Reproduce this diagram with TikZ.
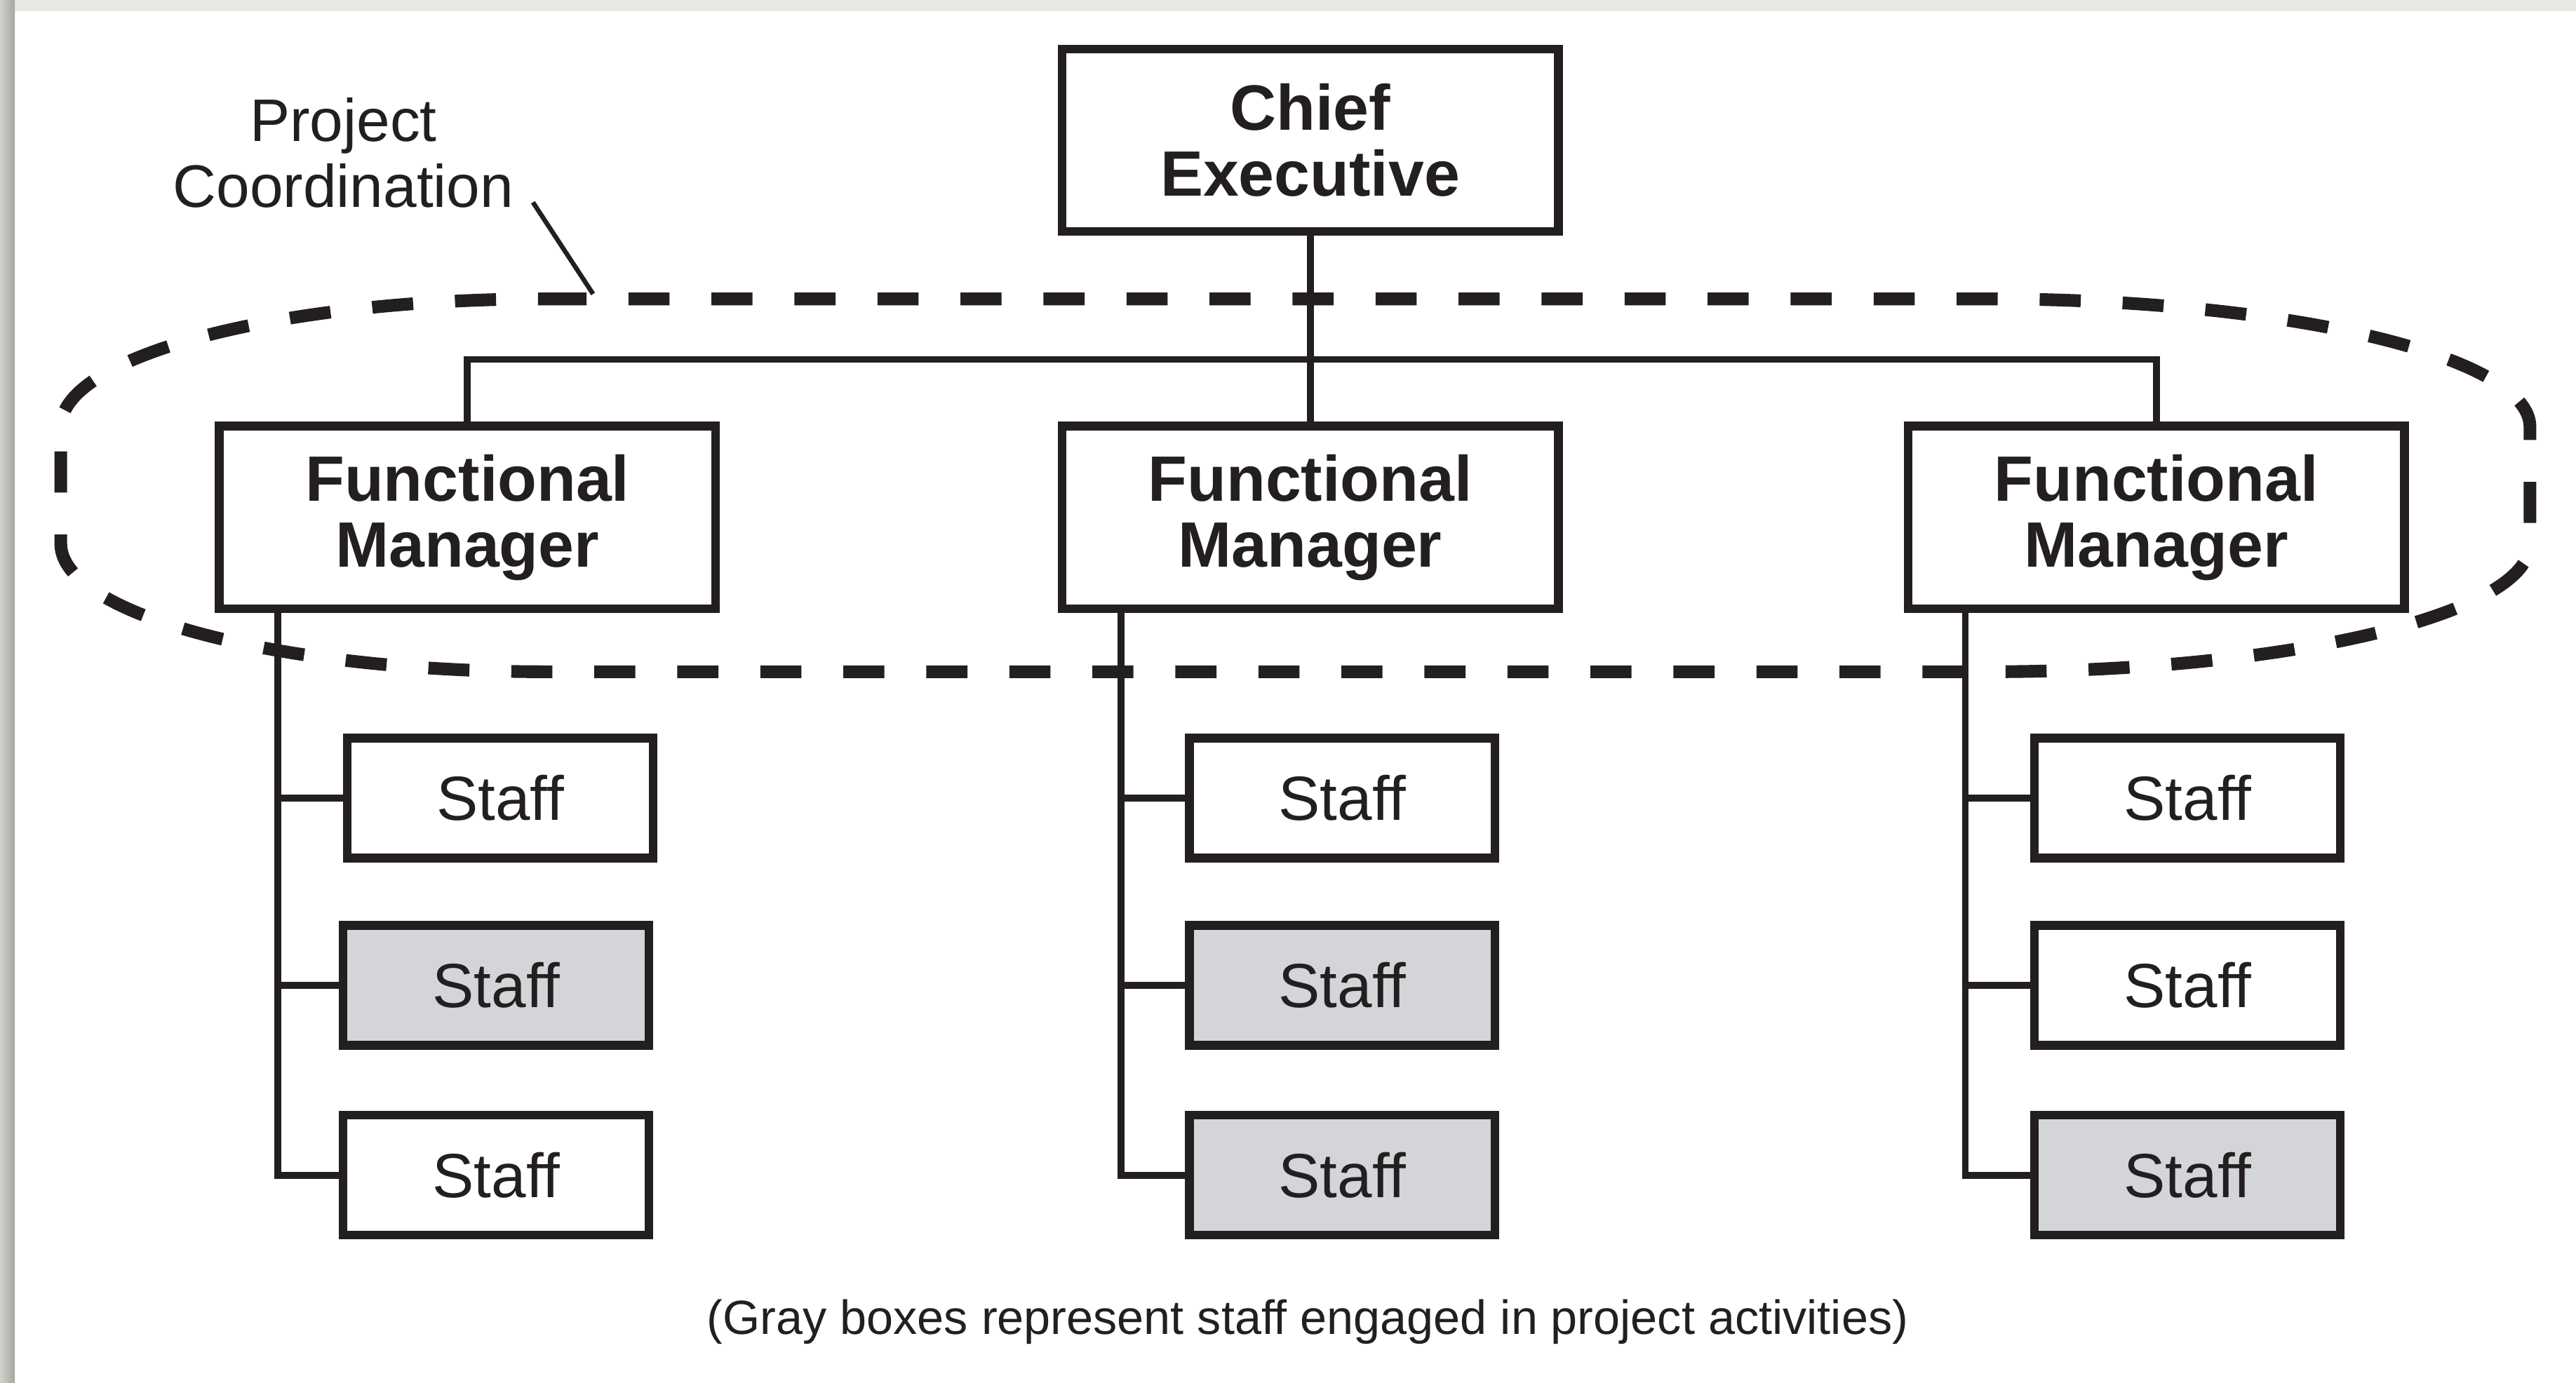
\documentclass[tikz,border=0pt]{standalone}
\usepackage{fontspec}
\setmainfont{Liberation Sans}
\definecolor{ink}{RGB}{35,31,32}
\definecolor{staffgray}{RGB}{212,213,216}
\definecolor{bandgray}{RGB}{234,232,227}
\definecolor{bandshade}{RGB}{168,166,160}
\begin{document}
\begin{tikzpicture}
  [x=0.01cm, y=-0.01cm,
  every node/.style={text=ink, inner sep=0pt},
  headbox/.style={draw=ink, line width=1.5pt, fill=white, minimum width=3.02cm,
    minimum height=1.11cm, align=center, font=\bfseries\fontsize{11.1}{11.4}\selectfont},
  staffbox/.style={draw=ink, line width=1.5pt, fill=white, minimum width=1.86cm,
    minimum height=0.73cm, font=\fontsize{10.8}{13}\selectfont},
  busybox/.style={staffbox, fill=staffgray},
  link/.style={draw=ink, line width=1.2pt},
  coord/.style={draw=ink, line width=2.2pt, dash pattern=on 0.25cm off 0.255cm},
  ]
  % frame
  \useasboundingbox (0,0) rectangle (1568,842);
  \fill[white] (0,0) rectangle (1568,842);
  \fill[bandgray] (0,0) rectangle (1568,7);
  \shade[left color=bandgray!90!black, right color=bandshade] (0,0) rectangle (9,842);

  % chief and functional managers
  \node[headbox] (ce) at (797.5,85.5) {Chief\\Executive};
  \node[headbox] (fm1) at (284.5,315) {Functional\\Manager};
  \node[headbox] (fm2) at (797.5,315) {Functional\\Manager};
  \node[headbox] (fm3) at (1312.5,315) {Functional\\Manager};

  \draw[link] (ce.south) -- (fm2.north);
  \draw[link] (fm1.north) -- ++(0,-38) -| (fm3.north);

  % staff under each manager
  \node[staffbox] (s11) at (304.5,486) {Staff};
  \node[busybox]  (s12) at (302,600) {Staff};
  \node[staffbox] (s13) at (302,715.5) {Staff};

  \node[staffbox] (s21) at (817,486) {Staff};
  \node[busybox]  (s22) at (817,600) {Staff};
  \node[busybox]  (s23) at (817,715.5) {Staff};

  \node[staffbox] (s31) at (1331.5,486) {Staff};
  \node[staffbox] (s32) at (1331.5,600) {Staff};
  \node[busybox]  (s33) at (1331.5,715.5) {Staff};

  \path (fm1.south west) ++(38.5,0) coordinate (t1);
  \path (fm2.south west) ++(38.5,0) coordinate (t2);
  \path (fm3.south west) ++(37.5,0) coordinate (t3);

  \draw[link] (t1) |- (s13.west);
  \draw[link] (s11.west) -- (s11.west -| t1);
  \draw[link] (s12.west) -- (s12.west -| t1);
  \draw[link] (t2) |- (s23.west);
  \draw[link] (s21.west) -- (s21.west -| t2);
  \draw[link] (s22.west) -- (s22.west -| t2);
  \draw[link] (t3) |- (s33.west);
  \draw[link] (s31.west) -- (s31.west -| t3);
  \draw[link] (s32.west) -- (s32.west -| t3);

  % project coordination loop
  \draw[coord] (332,182) -- (1210,182)
    .. controls (1392.3,182) and (1540,216.9) .. (1540,260) -- (1540,331)
    .. controls (1540,374.1) and (1392.3,409) .. (1210,409) -- (332,409)
    .. controls (169,409) and (37,374.1) .. (37,331) -- (37,260)
    .. controls (37,216.9) and (169,182) .. cycle;

  \node[align=center, font=\fontsize{10.4}{11.4}\selectfont] (pc) at (209,93)
    {Project\\Coordination};
  \coordinate (lead) at (361,179);
  \draw[draw=ink, line width=0.8pt] (pc.south east) ++(11,-4) -- (lead);

  \node[font=\fontsize{8.3}{10}\selectfont] (note) at (796,805)
    {(Gray boxes represent staff engaged in project activities)};
\end{tikzpicture}
\end{document}
